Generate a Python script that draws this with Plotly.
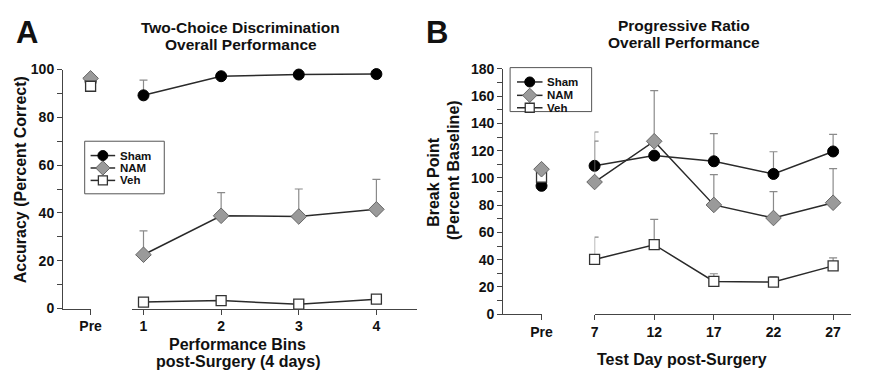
import plotly.graph_objects as go

# ---------------- data ----------------
# Panel A: Two-choice discrimination
a_bins = [1, 2, 3, 4]
a_sham_pre = 95.0
a_nam_pre = 96.3
a_veh_pre = 93.0
a_sham = [89.2, 97.2, 97.9, 98.1]
a_sham_err = [6.4, 0.5, 0.5, 0.5]
a_nam = [22.5, 38.8, 38.5, 41.5]
a_nam_err = [10.0, 9.7, 11.5, 12.5]
a_veh = [2.7, 3.3, 1.8, 3.9]
a_veh_err = [1.0, 2.0, 1.0, 1.5]

# Panel B: Progressive ratio
b_days = [7, 12, 17, 22, 27]
b_sham_pre = 94.2
b_nam_pre = 106.4
b_veh_pre = 100.5
b_sham = [108.9, 116.4, 112.2, 102.9, 119.4]
b_sham_err = [24.8, 0.0, 20.3, 16.3, 12.6]
b_nam = [97.0, 126.9, 80.2, 70.6, 81.8]
b_nam_err = [30.0, 37.1, 22.2, 19.4, 25.0]
b_veh = [40.2, 51.0, 24.1, 23.6, 35.5]
b_veh_err = [16.4, 18.6, 5.6, 4.0, 5.9]

names = ["Sham", "NAM", "Veh"]

# ---------------- styles ----------------
WIN_W, WIN_H = 870, 379
OFF = 8                      # default page body margin
W, H = WIN_W - 2 * OFF, WIN_H - 2 * OFF
FONT = "Liberation Sans"
LINE = "#2a2a2a"
ERR = "#8a8a8a"
AXC = "#444444"
CLEAR = "rgba(0,0,0,0)"
styles = {
    "Sham": dict(symbol="circle", size=11, color="#000000", line=dict(color="#000000", width=1)),
    "NAM": dict(symbol="diamond", size=12, color="#9a9a9a", line=dict(color="#666666", width=1)),
    "Veh": dict(symbol="square", size=10, color="#ffffff", line=dict(color="#333333", width=1.3)),
}


def px_x(p):
    return min(1.0, max(0.0, (p - OFF) / W))


def px_y(p):
    return min(1.0, max(0.0, 1 - (p - OFF) / H))


fig = go.Figure()


def add_series(name, xs, ys, err, pre, xa_main, xa_pre, ya):
    fig.add_trace(go.Scatter(
        x=[0], y=[pre], mode="markers", marker=styles[name],
        xaxis=xa_pre, yaxis=ya, showlegend=False, cliponaxis=False, name=name))
    fig.add_trace(go.Scatter(
        x=xs, y=ys, mode="lines+markers", name=name,
        marker=styles[name], line=dict(color=LINE, width=1.5),
        error_y=dict(type="data", symmetric=False, array=err,
                     arrayminus=[0] * len(err), color=ERR, thickness=1.2, width=4),
        xaxis=xa_main, yaxis=ya, showlegend=False, cliponaxis=False))


add_series("Sham", a_bins, a_sham, a_sham_err, a_sham_pre, "x2", "x", "y")
add_series("NAM", a_bins, a_nam, a_nam_err, a_nam_pre, "x2", "x", "y")
add_series("Veh", a_bins, a_veh, a_veh_err, a_veh_pre, "x2", "x", "y")
add_series("Sham", b_days, b_sham, b_sham_err, b_sham_pre, "x4", "x3", "y2")
add_series("Veh", b_days, b_veh, b_veh_err, b_veh_pre, "x4", "x3", "y2")
add_series("NAM", b_days, b_nam, b_nam_err, b_nam_pre, "x4", "x3", "y2")

# ---------------- manual legends (pixel overlay axis) ----------------
legend_boxes = [
    dict(x0=82, x1=163, y0=139, y1=194, lx0=88, lx1=113, tx=117, rows=[154, 167, 180]),
    dict(x0=515, x1=598, y0=62, y1=108, lx0=522, lx1=548, tx=552, rows=[77, 91, 104]),
]
for box in legend_boxes:
    fig.add_shape(type="rect", xref="paper", yref="paper",
                  x0=px_x(box["x0"]), x1=px_x(box["x1"]),
                  y0=px_y(box["y1"]), y1=px_y(box["y0"]),
                  line=dict(color="#555555", width=1), fillcolor=CLEAR, layer="below")
for box in legend_boxes:
    for name, ry in zip(names, box["rows"]):
        fig.add_trace(go.Scatter(
            x=[box["lx0"], box["lx1"]], y=[ry, ry], mode="lines",
            line=dict(color=LINE, width=1.5), xaxis="x5", yaxis="y3",
            showlegend=False, hoverinfo="skip", cliponaxis=False))
        mk = dict(styles[name])
        mk["size"] = mk["size"] - 1
        fig.add_trace(go.Scatter(
            x=[(box["lx0"] + box["lx1"]) / 2], y=[ry], mode="markers", marker=mk,
            xaxis="x5", yaxis="y3", showlegend=False, hoverinfo="skip", cliponaxis=False))
        fig.add_annotation(text=name, x=px_x(box["tx"]), y=px_y(ry), xref="paper", yref="paper",
                           showarrow=False, xanchor="left", yanchor="middle", borderpad=0,
                           font=dict(family=FONT, size=11.5, color="#111111", weight="bold"))

tickfont = dict(family=FONT, size=14, color="#111111", weight="bold")
common_x = dict(showline=True, linecolor=AXC, linewidth=1.2, ticks="outside",
                ticklen=5, tickcolor=AXC, tickwidth=1.2, showgrid=False,
                zeroline=False, tickfont=tickfont, fixedrange=True)
common_y = dict(showline=True, linecolor=AXC, linewidth=1.2, ticks="outside",
                ticklen=5, tickcolor=AXC, tickwidth=1.2, showgrid=False,
                zeroline=False, tickfont=tickfont, dtick=20, fixedrange=True,
                minor=dict(dtick=10, ticks="outside", ticklen=5, tickcolor=AXC, tickwidth=1.2))

fig.update_layout(
    width=W, height=H, margin=dict(l=0, r=0, t=0, b=0),
    paper_bgcolor="white", plot_bgcolor=CLEAR, showlegend=False,
    xaxis=dict(domain=[px_x(60), px_x(88)], range=[-1, 0], anchor="y",
               tickvals=[0], ticktext=["Pre"], **common_x),
    xaxis2=dict(domain=[px_x(130), px_x(420)], range=[0.85, 4.52], anchor="y",
                tickvals=a_bins, ticktext=[str(v) for v in a_bins], **common_x),
    yaxis=dict(domain=[px_y(314), px_y(64)], range=[0, 100], anchor="x", **common_y),
    xaxis3=dict(domain=[px_x(508), px_x(547)], range=[-1, 0], anchor="y2",
                tickvals=[0], ticktext=["Pre"], **common_x),
    xaxis4=dict(domain=[px_x(601), 1.0], range=[7, 28.5], anchor="y2",
                tickvals=b_days, ticktext=[str(v) for v in b_days], **common_x),
    yaxis2=dict(domain=[px_y(320), px_y(63.3)], range=[0, 180], anchor="x3", **common_y),
    xaxis5=dict(domain=[0, 1], range=[OFF, OFF + W], visible=False, anchor="y3", fixedrange=True),
    yaxis3=dict(domain=[0, 1], range=[OFF + H, OFF], visible=False, anchor="x5", fixedrange=True),
)


def ann(text, x, y, size, angle=0):
    fig.add_annotation(text=text, x=px_x(x), y=px_y(y), xref="paper", yref="paper",
                       showarrow=False, textangle=angle, xanchor="center", yanchor="middle",
                       font=dict(family=FONT, size=size, color="#111111", weight="bold"))


ann("A", 23, 25, 31)
ann("B", 441, 25, 31)
ann("Two-Choice Discrimination", 241, 20, 15.5)
ann("Overall Performance", 241, 38, 15.5)
ann("Progressive Ratio", 692, 18, 15.5)
ann("Overall Performance", 692, 36, 15.5)
ann("Accuracy (Percent Correct)", 17, 179, 16, -90)
ann("Break Point", 437, 181, 16, -90)
ann("(Percent Baseline)", 458, 169, 16, -90)
ann("Performance Bins", 238, 352, 16)
ann("post-Surgery (4 days)", 238, 369, 16)
ann("Test Day post-Surgery", 690, 367, 16)

fig.write_html("out.html")
